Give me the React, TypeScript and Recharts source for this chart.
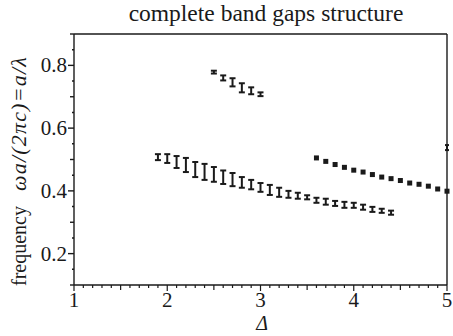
import { ScatterChart, Scatter, XAxis, YAxis, ErrorBar, ReferenceLine } from "recharts";

// lower complete gap (I-beams)
const lowDelta = [1.9, 2.0, 2.1, 2.2, 2.3, 2.4, 2.5, 2.6, 2.7, 2.8, 2.9, 3.0, 3.1, 3.2, 3.3, 3.4, 3.5, 3.6, 3.7, 3.8, 3.9, 4.0, 4.1, 4.2, 4.3, 4.4];
const lowTop = [0.517, 0.517, 0.511, 0.505, 0.492, 0.486, 0.476, 0.465, 0.457, 0.444, 0.435, 0.425, 0.419, 0.41, 0.4, 0.394, 0.386, 0.378, 0.375, 0.368, 0.365, 0.362, 0.356, 0.349, 0.343, 0.337];
const lowBottom = [0.498, 0.489, 0.473, 0.46, 0.444, 0.435, 0.429, 0.422, 0.415, 0.41, 0.405, 0.397, 0.387, 0.381, 0.378, 0.375, 0.373, 0.362, 0.356, 0.352, 0.346, 0.346, 0.34, 0.333, 0.33, 0.324];

// upper gap near 0.75
const upDelta = [2.5, 2.6, 2.7, 2.8, 2.9, 3.0];
const upTop = [0.783, 0.768, 0.759, 0.743, 0.73, 0.714];
const upBottom = [0.774, 0.752, 0.733, 0.714, 0.708, 0.702];

// right gap (small squares)
const rightDelta = [3.6, 3.7, 3.8, 3.9, 4.0, 4.1, 4.2, 4.3, 4.4, 4.5, 4.6, 4.7, 4.8, 4.9, 5.0];
const rightFreq = [0.505, 0.494, 0.484, 0.475, 0.466, 0.46, 0.452, 0.444, 0.439, 0.433, 0.425, 0.421, 0.415, 0.406, 0.399];

// lone gap at the right edge
const edgeDelta = [5.0];
const edgeTop = [0.546];
const edgeBottom = [0.53];

const xTicks = Array.from({ length: 41 }, (_, i) => 1 + i / 10);
const yTicks = Array.from({ length: 17 }, (_, i) => (10 + i * 5) / 100);

const serif = "'Liberation Serif', 'DejaVu Serif', serif";
const ink = "#1a1a1a";

function toRows(xs: number[], tops: number[], bottoms: number[]) {
  return xs.map((x, i) => {
    const mid = (tops[i] + bottoms[i]) / 2;
    const half = (tops[i] - bottoms[i]) / 2;
    return { x, y: mid, err: [half, half] };
  });
}

const lowRows = toRows(lowDelta, lowTop, lowBottom);
const upRows = toRows(upDelta, upTop, upBottom);
const edgeRows = toRows(edgeDelta, edgeTop, edgeBottom);
const rightRows = rightDelta.map((x, i) => ({ x, y: rightFreq[i] }));

const isStep = (v: number, step: number) => Math.abs(v / step - Math.round(v / step)) < 1e-6;

function XTick(props: any) {
  const { x, y, payload } = props;
  const v = payload.value;
  const major = isStep(v, 1);
  const len = major ? 6 : isStep(v, 0.5) ? 5 : 3;
  return (
    <g>
      <line x1={x} x2={x} y1={y} y2={y + len} stroke={ink} strokeWidth={1.2} />
      {major && (
        <text x={x} y={y + 22} textAnchor="middle" style={{ fontFamily: serif, fontSize: 21 }} fill={ink}>
          {Math.round(v)}
        </text>
      )}
    </g>
  );
}

function YTick(props: any) {
  const { x, y, payload } = props;
  const v = payload.value;
  const labeled = isStep(v, 0.2) && v > 0.15 && v < 0.85;
  const len = labeled ? 6 : isStep(v, 0.1) ? 4 : 2;
  return (
    <g>
      <line x1={x - len} x2={x} y1={y} y2={y} stroke={ink} strokeWidth={1.4} />
      {labeled && (
        <text x={x - 7} y={y + 7} textAnchor="end" style={{ fontFamily: serif, fontSize: 21 }} fill={ink}>
          {v.toFixed(1)}
        </text>
      )}
    </g>
  );
}

const noMark = () => <g />;
const square = (p: any) => <rect x={p.cx - 2.5} y={p.cy - 2.5} width={5} height={5} fill={ink} />;

function YLabel() {
  return (
    <text transform="translate(26,286) rotate(-90)" style={{ fontFamily: serif, fontSize: 20 }} fill={ink}>
      <tspan>frequency</tspan>
      <tspan dx={15} fontStyle="italic" fontSize={22} letterSpacing={1.2}>
        ωa/(2πc)=a/λ
      </tspan>
    </text>
  );
}

function XLabel() {
  return (
    <text x={262} y={330} textAnchor="middle" style={{ fontFamily: serif, fontSize: 20, fontStyle: "italic" }} fill={ink}>
      Δ
    </text>
  );
}

export default function App() {
  return (
    <div style={{ position: "absolute", left: 0, top: 0, width: 453, height: 336, background: "#fff" }}>
      <div
        style={{
          position: "absolute",
          left: 0,
          width: 532,
          top: -1,
          textAlign: "center",
          fontFamily: serif,
          fontSize: 23.5,
          color: ink,
          lineHeight: "28px",
          whiteSpace: "nowrap",
        }}
      >
        complete band gaps structure
      </div>
      <ScatterChart width={453} height={336} margin={{ top: 34, right: 6, left: 0, bottom: 0 }}>
        <XAxis
          xAxisId="x"
          dataKey="x"
          type="number"
          domain={[1, 5]}
          ticks={xTicks}
          interval={0}
          tick={<XTick />}
          tickLine={false}
          tickSize={0}
          tickMargin={0}
          height={51}
          stroke={ink}
          strokeWidth={1.4}
          label={<XLabel />}
        />
        <YAxis
          yAxisId="y"
          dataKey="y"
          type="number"
          domain={[0.1, 0.9]}
          ticks={yTicks}
          interval={0}
          tick={<YTick />}
          tickLine={false}
          tickSize={0}
          tickMargin={0}
          width={74}
          stroke={ink}
          strokeWidth={1.4}
          label={<YLabel />}
        />
        <ReferenceLine xAxisId="x" yAxisId="y" y={0.9} stroke={ink} strokeWidth={1.4} />
        <ReferenceLine xAxisId="x" yAxisId="y" x={5} stroke={ink} strokeWidth={1.4} />
        <Scatter xAxisId="x" yAxisId="y" data={lowRows} shape={noMark} isAnimationActive={false}>
          <ErrorBar dataKey="err" direction="y" width={3} stroke={ink} strokeWidth={2} isAnimationActive={false} />
        </Scatter>
        <Scatter xAxisId="x" yAxisId="y" data={upRows} shape={noMark} isAnimationActive={false}>
          <ErrorBar dataKey="err" direction="y" width={3} stroke={ink} strokeWidth={2} isAnimationActive={false} />
        </Scatter>
        <Scatter xAxisId="x" yAxisId="y" data={edgeRows} shape={noMark} isAnimationActive={false}>
          <ErrorBar dataKey="err" direction="y" width={2} stroke={ink} strokeWidth={2} isAnimationActive={false} />
        </Scatter>
        <Scatter xAxisId="x" yAxisId="y" data={rightRows} shape={square} isAnimationActive={false} />
      </ScatterChart>
    </div>
  );
}
